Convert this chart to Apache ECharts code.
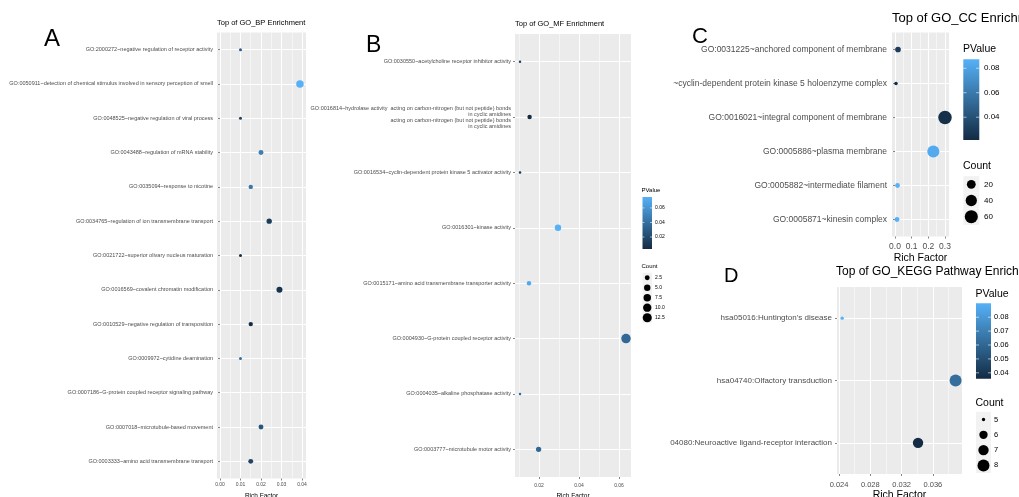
<!DOCTYPE html>
<html><head><meta charset="utf-8">
<script src="https://cdn.jsdelivr.net/npm/echarts@6/dist/echarts.min.js"></script>
<style>html,body{margin:0;padding:0;background:#fff}#c{width:1019px;height:497px}</style>
</head><body><div id="c"></div>
<script>
// ---------- Panel A : GO_BP ----------
const bpTerms = [
  "GO:2000272~negative regulation of receptor activity",
  "GO:0050911~detection of chemical stimulus involved in sensory perception of smell",
  "GO:0048525~negative regulation of viral process",
  "GO:0043488~regulation of mRNA stability",
  "GO:0035094~response to nicotine",
  "GO:0034765~regulation of ion transmembrane transport",
  "GO:0021722~superior olivary nucleus maturation",
  "GO:0016569~covalent chromatin modification",
  "GO:0010529~negative regulation of transposition",
  "GO:0009972~cytidine deamination",
  "GO:0007186~G-protein coupled receptor signaling pathway",
  "GO:0007018~microtubule-based movement",
  "GO:0003333~amino acid transmembrane transport"
];
const bpRich   = [0.010, 0.039, 0.010, 0.020, 0.015, 0.024, 0.010, 0.029, 0.015, 0.010, null, 0.020, 0.015];
const bpPValue = [0.040, 0.090, 0.025, 0.060, 0.055, 0.020, 0.012, 0.015, 0.010, 0.050, null, 0.035, 0.025];
const bpCount  = [1, 12, 1, 3, 2, 4, 1, 6, 2, 1, null, 3, 3];
const bpTicks  = [0, 0.01, 0.02, 0.03, 0.04];
const bpMinor  = [0.005, 0.015, 0.025, 0.035];

// ---------- Panel B : GO_MF ----------
const mfTerms = [
  "GO:0030550~acetylcholine receptor inhibitor activity",
  "GO:0016814~hydrolase activity  acting on carbon-nitrogen (but not peptide) bonds\nin cyclic amidines\nacting on carbon-nitrogen (but not peptide) bonds\nin cyclic amidines",
  "GO:0016534~cyclin-dependent protein kinase 5 activator activity",
  "GO:0016301~kinase activity",
  "GO:0015171~amino acid transmembrane transporter activity",
  "GO:0004930~G-protein coupled receptor activity",
  "GO:0004035~alkaline phosphatase activity",
  "GO:0003777~microtubule motor activity"
];
const mfRich   = [0.0105, 0.0153, 0.0105, 0.0295, 0.0150, 0.0635, 0.0105, 0.0198];
const mfPValue = [0.014, 0.0035, 0.010, 0.075, 0.070, 0.036, 0.038, 0.036];
const mfCount  = [1, 2, 1, 5, 2, 14, 1, 3];
const mfTicks  = [0.02, 0.04, 0.06];
const mfMinor  = [0.01, 0.03, 0.05];
const mfPTicks = [0.02, 0.04, 0.06];
const mfCountBreaks = [2.5, 5.0, 7.5, 10.0, 12.5];

// ---------- Panel C : GO_CC ----------
const ccTerms = [
  "GO:0031225~anchored component of membrane",
  "~cyclin-dependent protein kinase 5 holoenzyme complex",
  "GO:0016021~integral component of membrane",
  "GO:0005886~plasma membrane",
  "GO:0005882~intermediate filament",
  "GO:0005871~kinesin complex"
];
const ccRich   = [0.018, 0.006, 0.300, 0.230, 0.015, 0.012];
const ccPValue = [0.030, 0.0214, 0.024, 0.084, 0.0873, 0.087];
const ccCount  = [5, 2, 65, 48, 3, 3];
const ccTicks  = [0, 0.1, 0.2, 0.3];
const ccMinor  = [0.05, 0.15, 0.25];
const ccPTicks = [0.04, 0.06, 0.08];
const ccCountBreaks = [20, 40, 60];

// ---------- Panel D : KEGG ----------
const keggTerms = [
  "hsa05016:Huntington's disease",
  "hsa04740:Olfactory transduction",
  "04080:Neuroactive ligand-receptor interaction"
];
const keggRich   = [0.0244, 0.0389, 0.0341];
const keggPValue = [0.090, 0.063, 0.0357];
const keggCount  = [5, 8, 7];
const keggTicks  = [0.024, 0.028, 0.032, 0.036];
const keggMinor  = [0.026, 0.030, 0.034, 0.038];
const keggPTicks = [0.04, 0.05, 0.06, 0.07, 0.08];
const keggCountBreaks = [5, 6, 7, 8];

const FONT = "'Liberation Sans', Arial, sans-serif";
const LOW = '#132B43', HIGH = '#56B1F7';

const panels = [
  {title:'Top of GO_BP Enrichment', titleX:217, titleY:19, titleFs:7.5, titleW:90,
   letter:'A', lx:44, ly:27, lfs:24,
   terms:bpTerms, rich:bpRich, p:bpPValue, count:bpCount, pRange:[0.010,0.090], cRange:[1,12], size:[3,7.5],
   grid:{left:217,right:713,top:32.5,bottom:18.5}, xMin:-0.00146, xMax:0.04195, ticks:bpTicks, minor:bpMinor, dec:2,
   labelFs:5.5, tickFs:5, nameFs:6.5, nameGap:10, tickMargin:4, yMargin:4},
  {title:'Top of GO_MF Enrichment', titleX:515, titleY:20, titleFs:7.5, titleW:200,
   letter:'B', lx:366, ly:34, lfs:23,
   terms:mfTerms, rich:mfRich, p:mfPValue, count:mfCount, pRange:[0.0035,0.075], cRange:[1,14], size:[2.5,9.5],
   grid:{left:515,right:388,top:34,bottom:20}, xMin:0.008, xMax:0.066, ticks:mfTicks, minor:mfMinor, dec:2,
   labelFs:5.5, tickFs:5, nameFs:6.5, nameGap:13, tickMargin:6, yMargin:4, lineHeight:6},
  {title:'Top of GO_CC Enrichment', titleX:892, titleY:12, titleFs:13, titleW:400,
   letter:'C', lx:692, ly:26, lfs:22,
   terms:ccTerms, rich:ccRich, p:ccPValue, count:ccCount, pRange:[0.0214,0.0873], cRange:[2,65], size:[3.5,13.5],
   grid:{left:892,right:70,top:32.5,bottom:260.5}, xMin:-0.018, xMax:0.324, ticks:ccTicks, minor:ccMinor, dec:1,
   labelFs:8.5, tickFs:8.5, nameFs:10.5, nameGap:15, tickMargin:6, yMargin:5},
  {title:'Top of GO_KEGG Pathway Enrichment', titleX:836, titleY:266, titleFs:12, titleW:400,
   letter:'D', lx:724, ly:266, lfs:20,
   terms:keggTerms, rich:keggRich, p:keggPValue, count:keggCount, pRange:[0.0357,0.090], cRange:[5,8], size:[3.3,12],
   grid:{left:837,right:57,top:287,bottom:23}, xMin:0.02374, xMax:0.03972, ticks:keggTicks, minor:keggMinor, dec:3,
   labelFs:8, tickFs:7.5, nameFs:10.5, nameGap:13, tickMargin:7, yMargin:5}
];

function sizeOf(pn, c){
  const t = Math.max(0, Math.min(1, (c - pn.cRange[0]) / (pn.cRange[1] - pn.cRange[0])));
  return pn.size[0] + (pn.size[1] - pn.size[0]) * Math.sqrt(t);
}

const grids = [], xAxes = [], yAxes = [], series = [], visualMaps = [], titles = [];
panels.forEach((pn, i) => {
  grids.push(Object.assign({show:true, backgroundColor:'#EBEBEB', borderWidth:0,
                            containLabel:false, outerBoundsMode:'none'}, pn.grid));
  xAxes.push({
    gridIndex:i, type:'value', min:pn.xMin, max:pn.xMax,
    axisLine:{show:false},
    axisTick:{show:true, length:2, customValues:pn.ticks, lineStyle:{color:'#333', width:0.6}},
    axisLabel:{customValues:pn.ticks, formatter:v => v.toFixed(pn.dec), fontSize:pn.tickFs, color:'#4D4D4D', margin:pn.tickMargin, fontFamily:FONT},
    splitLine:{show:true, lineStyle:{color:'#FFFFFF', width:1}},
    name:'Rich Factor', nameLocation:'middle', nameGap:pn.nameGap,
    nameTextStyle:{fontSize:pn.nameFs, color:'#000', fontFamily:FONT}
  });
  xAxes.push({
    gridIndex:i, type:'value', min:pn.xMin, max:pn.xMax, position:'bottom',
    axisLine:{show:false},
    axisTick:{show:false, customValues:pn.minor},
    axisLabel:{show:false},
    splitLine:{show:true, lineStyle:{color:'#FFFFFF', width:0.5}}
  });
  yAxes.push({
    gridIndex:i, type:'category', data:pn.terms, inverse:true,
    axisLine:{show:false},
    axisTick:{show:true, alignWithLabel:true, interval:0, length:2, lineStyle:{color:'#333', width:0.6}},
    axisLabel:{interval:0, fontSize:pn.labelFs, color:'#4D4D4D', margin:pn.yMargin, fontFamily:FONT,
               lineHeight:pn.lineHeight || undefined},
    splitLine:{show:true, alignWithLabel:true, interval:0, lineStyle:{color:'#FFFFFF', width:1}}
  });
  const data = [];
  pn.terms.forEach((t, k) => {
    if (pn.rich[k] != null) data.push([pn.rich[k], t, pn.p[k], pn.count[k]]);
  });
  series.push({
    type:'scatter', xAxisIndex:2*i, yAxisIndex:i, data,
    encode:{x:0, y:1},
    symbol:'circle',
    symbolSize: v => sizeOf(pn, v[3]),
    itemStyle:{opacity:1, borderWidth:0}
  });
  visualMaps.push({
    type:'continuous', show:false, seriesIndex:i, dimension:2,
    min:pn.pRange[0], max:pn.pRange[1], inRange:{color:[LOW, HIGH]}
  });
  titles.push({text:pn.title, left:pn.titleX, top:pn.titleY, padding:0,
    textStyle:{fontSize:pn.titleFs, fontWeight:'normal', color:'#000', fontFamily:FONT,
               width:pn.titleW, overflow:'truncate', ellipsis:''}});
  titles.push({text:pn.letter, left:pn.lx, top:pn.ly, padding:0,
    textStyle:{fontSize:pn.lfs, fontWeight:'normal', color:'#000', fontFamily:FONT}});
});

// ---------- legends (ggplot-style colourbar + size keys) ----------
const graphics = [];
function txt(x, y, text, fs){
  graphics.push({type:'text', x, y, silent:true,
    style:{text, fontSize:fs, fontFamily:FONT, fill:'#000', align:'left', verticalAlign:'middle'}});
}
function legend(pn, L){
  txt(L.x, L.titleY, 'PValue', L.titleFs);
  graphics.push({type:'rect', shape:{x:L.barX, y:L.barY, width:L.barW, height:L.barH}, silent:true,
    style:{fill:new echarts.graphic.LinearGradient(0,0,0,1,[{offset:0,color:HIGH},{offset:1,color:LOW}])}});
  L.pTicks.forEach(v => {
    const y = L.barY + L.barH - (v - pn.pRange[0]) / (pn.pRange[1] - pn.pRange[0]) * L.barH;
    const tl = L.barW / 5;
    graphics.push({type:'line', shape:{x1:L.barX, y1:y, x2:L.barX + tl, y2:y}, silent:true, style:{stroke:'#fff', lineWidth:0.6}});
    graphics.push({type:'line', shape:{x1:L.barX + L.barW - tl, y1:y, x2:L.barX + L.barW, y2:y}, silent:true, style:{stroke:'#fff', lineWidth:0.6}});
    txt(L.labelX, y, v.toFixed(2), L.labelFs);
  });
  txt(L.x, L.countTitleY, 'Count', L.titleFs);
  L.breaks.forEach((c, k) => {
    const cy = L.keyY0 + k * L.keyStep;
    graphics.push({type:'rect', shape:{x:L.barX, y:cy - L.keyStep/2, width:L.barW, height:L.keyStep}, silent:true,
      style:{fill:'#F2F2F2'}});
    graphics.push({type:'circle', shape:{cx:L.barX + L.barW/2, cy, r:sizeOf(pn, c)/2}, silent:true, style:{fill:'#000'}});
    txt(L.labelX, cy, c.toFixed(L.cDec), L.labelFs);
  });
}
legend(panels[1], {x:641.5, titleY:190.5, titleFs:6, barX:642.5, barY:197, barW:9.5, barH:52,
  pTicks:mfPTicks, labelX:655, labelFs:5, countTitleY:266, breaks:mfCountBreaks, keyY0:277.7, keyStep:10, cDec:1});
legend(panels[2], {x:963, titleY:49.5, titleFs:10.5, barX:963.3, barY:59.3, barW:16, barH:80.7,
  pTicks:ccPTicks, labelX:984, labelFs:8, countTitleY:166, breaks:ccCountBreaks, keyY0:184.3, keyStep:16.2, cDec:0});
legend(panels[3], {x:975.5, titleY:294, titleFs:10.5, barX:976, barY:303.3, barW:15, barH:75.5,
  pTicks:keggPTicks, labelX:994, labelFs:7.5, countTitleY:403.3, breaks:keggCountBreaks, keyY0:419.5, keyStep:15.3, cDec:0});

const chart = echarts.init(document.getElementById('c'), null, {renderer:'canvas'});
chart.setOption({
  animation:false,
  backgroundColor:'#FFFFFF',
  textStyle:{fontFamily:FONT},
  title:titles,
  grid:grids,
  xAxis:xAxes,
  yAxis:yAxes,
  visualMap:visualMaps,
  series:series,
  graphic:graphics
});
</script></body></html>
